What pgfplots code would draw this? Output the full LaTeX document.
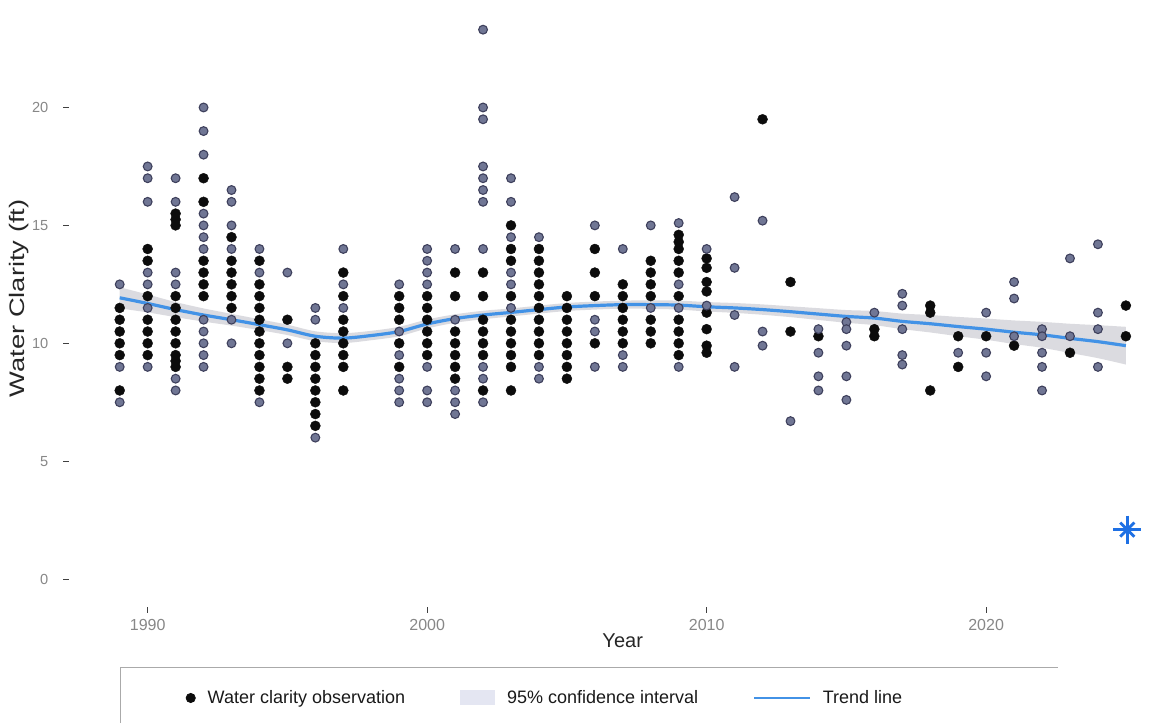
\documentclass[border=0pt]{standalone}
\usepackage{pgfplots}
\pgfplotsset{compat=1.18}
\usepgfplotslibrary{fillbetween}
\usepackage{fontspec}
\setmainfont{Liberation Sans}
\usepackage{graphicx}
\definecolor{ptgray}{RGB}{112,118,148}
\definecolor{ptring}{RGB}{62,64,92}
\definecolor{ptblack}{RGB}{12,12,12}
\definecolor{trendblue}{RGB}{66,146,230}
\definecolor{bandgray}{RGB}{190,190,198}
\definecolor{swatch}{RGB}{205,210,232}
\definecolor{astblue}{RGB}{30,112,228}
\definecolor{tickgray}{RGB}{135,135,135}
\definecolor{legline}{RGB}{170,170,170}

\pgfplotstableread{
x y
1989 11.5
1989 11
1989 10.5
1989 10
1989 9.5
1989 8
1990 14
1990 13.5
1990 12
1990 11
1990 10.5
1990 10
1990 9.5
1991 15.5
1991 15.25
1991 15
1991 12
1991 11.5
1991 11
1991 10.5
1991 10
1991 9.5
1991 9.25
1991 9
1992 17
1992 16
1992 13.5
1992 13
1992 12.5
1992 12
1993 14.5
1993 13.5
1993 13
1993 12.5
1993 12
1993 11.5
1994 13.5
1994 12.5
1994 12
1994 11.5
1994 11
1994 10.5
1994 10
1994 9.5
1994 9
1994 8.5
1994 8
1995 11
1995 9
1995 8.5
1996 10
1996 9.5
1996 9
1996 8.5
1996 8
1996 7.5
1996 7
1996 6.5
1997 13
1997 12
1997 11
1997 10.5
1997 10
1997 9.5
1997 9
1997 8
1999 12
1999 11.5
1999 11
1999 10
1999 9
2000 12
2000 11.5
2000 11
2000 10.5
2000 10
2000 9.5
2001 13
2001 12
2001 10.5
2001 10
2001 9.5
2001 9
2001 8.5
2002 13
2002 12
2002 11
2002 10.5
2002 10
2002 9.5
2002 8
2003 15
2003 14
2003 13.5
2003 12
2003 11
2003 10.5
2003 10
2003 9.5
2003 9
2003 8
2004 14
2004 13.5
2004 13
2004 12.5
2004 12
2004 11.5
2004 11
2004 10.5
2004 10
2004 9.5
2005 12
2005 11.5
2005 11
2005 10.5
2005 10
2005 9.5
2005 9
2005 8.5
2006 14
2006 13
2006 12
2006 10
2007 12.5
2007 12
2007 11.5
2007 11
2007 10.5
2007 10
2008 13.5
2008 13
2008 12.5
2008 12
2008 11
2008 10.5
2008 10
2009 14.6
2009 14.3
2009 14
2009 13.5
2009 13
2009 12
2009 11
2009 10.5
2009 10
2009 9.5
2010 13.6
2010 13.2
2010 12.6
2010 12.2
2010 11.3
2010 10.6
2010 9.9
2010 9.6
2012 19.5
2013 12.6
2013 10.5
2014 10.3
2016 10.6
2016 10.3
2018 11.6
2018 11.3
2018 8
2019 10.3
2019 9
2020 10.3
2021 9.9
2023 9.6
2025 11.6
2025 10.3
}\blackpts

\pgfplotstableread{
x y
1989 12.5
1989 9
1989 7.5
1990 17.5
1990 17
1990 16
1990 13
1990 12.5
1990 11.5
1990 9
1991 17
1991 16
1991 13
1991 12.5
1991 8.5
1991 8
1992 20
1992 19
1992 18
1992 15.5
1992 15
1992 14.5
1992 14
1992 11
1992 10.5
1992 10
1992 9.5
1992 9
1993 16.5
1993 16
1993 15
1993 14
1993 11
1993 10
1994 14
1994 13
1994 7.5
1995 13
1995 10
1996 11.5
1996 11
1996 6
1997 14
1997 12.5
1997 11.5
1999 12.5
1999 10.5
1999 9.5
1999 8.5
1999 8
1999 7.5
2000 14
2000 13.5
2000 13
2000 12.5
2000 9
2000 8
2000 7.5
2001 14
2001 11
2001 8
2001 7.5
2001 7
2002 23.3
2002 20
2002 19.5
2002 17.5
2002 17
2002 16.5
2002 16
2002 14
2002 9
2002 8.5
2002 7.5
2003 17
2003 16
2003 14.5
2003 13
2003 12.5
2003 11.5
2004 14.5
2004 9
2004 8.5
2006 15
2006 11
2006 10.5
2006 9
2007 14
2007 9.5
2007 9
2008 15
2008 11.5
2009 15.1
2009 12.5
2009 11.5
2009 9
2010 14
2010 11.6
2011 16.2
2011 13.2
2011 11.2
2011 9
2012 15.2
2012 10.5
2012 9.9
2013 6.7
2014 10.6
2014 9.6
2014 8.6
2014 8
2015 10.9
2015 10.6
2015 9.9
2015 8.6
2015 7.6
2016 11.3
2017 12.1
2017 11.6
2017 10.6
2017 9.5
2017 9.1
2019 9.6
2020 11.3
2020 9.6
2020 8.6
2021 12.6
2021 11.9
2021 10.3
2022 10.6
2022 10.3
2022 9.6
2022 9
2022 8
2023 13.6
2023 10.3
2024 14.2
2024 11.3
2024 10.6
2024 9
}\graypts

\pgfplotstableread{
x fit up lo
1989 11.93 12.38 11.48
1990 11.69 12.07 11.31
1991 11.43 11.75 11.11
1992 11.20 11.48 10.92
1993 11.00 11.25 10.75
1994 10.79 11.02 10.56
1995 10.57 10.79 10.35
1996 10.30 10.51 10.09
1997 10.22 10.43 10.01
1998 10.33 10.53 10.13
1999 10.50 10.70 10.30
2000 10.82 11.01 10.63
2001 11.05 11.23 10.87
2002 11.20 11.38 11.02
2003 11.31 11.48 11.14
2004 11.43 11.60 11.26
2005 11.54 11.71 11.37
2006 11.60 11.77 11.43
2007 11.64 11.81 11.47
2008 11.64 11.82 11.46
2009 11.62 11.81 11.43
2010 11.55 11.75 11.35
2011 11.50 11.71 11.29
2012 11.43 11.65 11.21
2013 11.34 11.57 11.11
2014 11.24 11.49 10.99
2015 11.14 11.41 10.87
2016 11.07 11.37 10.77
2017 10.93 11.26 10.60
2018 10.83 11.20 10.46
2019 10.71 11.12 10.30
2020 10.60 11.05 10.15
2021 10.47 10.97 9.97
2022 10.36 10.91 9.81
2023 10.21 10.83 9.59
2024 10.07 10.77 9.37
2025 9.90 10.70 9.10
}\trend

\begin{document}
\begin{tikzpicture}
\begin{axis}[
  at={(34.7pt,58.2pt)}, anchor=south west,
  scale only axis, width=547.8pt, height=302.2pt,
  xmin=1987.2, xmax=2026.4, ymin=-1.165, ymax=24.465,
  axis x line*=bottom, axis y line*=left,
  axis line style={draw=none},
  tick align=outside, major tick length=3pt,
  tick style={color=black!75, line width=0.5pt},
  xtick={1990,2000,2010,2020}, ytick={0,5,10,15,20},
  /pgf/number format/assume math mode=true,
  xticklabel style={/pgf/number format/1000 sep=, font=\fontsize{8}{9}\selectfont, text=tickgray},
  yticklabel style={font=\fontsize{7.3}{8}\selectfont, text=tickgray, xshift=-4pt},
  xlabel={Year}, ylabel={\scalebox{1.3}[1]{Water Clarity (ft)}},
  xlabel style={font=\fontsize{10}{12}\selectfont, text=black!85, at={(axis description cs:0.505,-0.057)}, anchor=center},
  ylabel style={font=\fontsize{10.5}{12}\selectfont, text=black!85, at={(axis description cs:-0.046,0.51)}, anchor=center},
  clip=false,
  legend columns=3,
  legend style={at={(axis description cs:0.1058,-0.1512)}, anchor=west, draw=none, fill=none,
    font=\fontsize{9}{10}\selectfont, inner sep=0pt, nodes={inner sep=0pt, text=black!90},
    /tikz/every odd column/.style={column sep=6pt},
    /tikz/every even column/.style={column sep=27.5pt}},
]
\addplot[only marks, mark=*, mark size=2.5pt, mark options={fill=ptblack, draw=ptblack, line width=0.2pt},
  legend image code/.code={\fill[ptblack] (2.3pt,0pt) circle (2.3pt);}]
  table[x=x,y=y] {\blackpts};
\addlegendentry{Water clarity observation}
\addplot[only marks, mark=*, mark size=2.2pt, mark options={fill=ptgray, draw=ptring, line width=0.55pt}, forget plot]
  table[x=x,y=y] {\graypts};
\addplot[name path=up, draw=none, forget plot, smooth] table[x=x,y=up] {\trend};
\addplot[name path=lo, draw=none, forget plot, smooth] table[x=x,y=lo] {\trend};
\addplot[fill=bandgray, fill opacity=0.55, draw=none, area legend,
  legend image code/.code={\fill[swatch] (0pt,-3.75pt) rectangle (17.5pt,3.75pt);}]
  fill between[of=up and lo];
\addlegendentry{95\% confidence interval}
\addplot[trendblue, line width=1.6pt, smooth,
  legend image code/.code={\draw[draw=trendblue, line width=0.8pt] (0pt,0pt) -- (28pt,0pt);}]
  table[x=x,y=fit] {\trend};
\addlegendentry{Trend line}
\addplot[only marks, mark=+, mark size=7pt, mark options={draw=astblue, line width=1.4pt}, forget plot]
  coordinates {(2025.05,2.1)};
\addplot[only marks, mark=x, mark size=5pt, mark options={draw=astblue, line width=1.4pt}, forget plot]
  coordinates {(2025.05,2.1)};
\end{axis}
\draw[legline, line width=0.5pt] (60pt,0pt) -- (60pt,28pt) -- (529pt,28pt);
\pgfresetboundingbox
\useasboundingbox (0,0) rectangle (582.5pt,361.5pt);
\end{tikzpicture}
\end{document}
